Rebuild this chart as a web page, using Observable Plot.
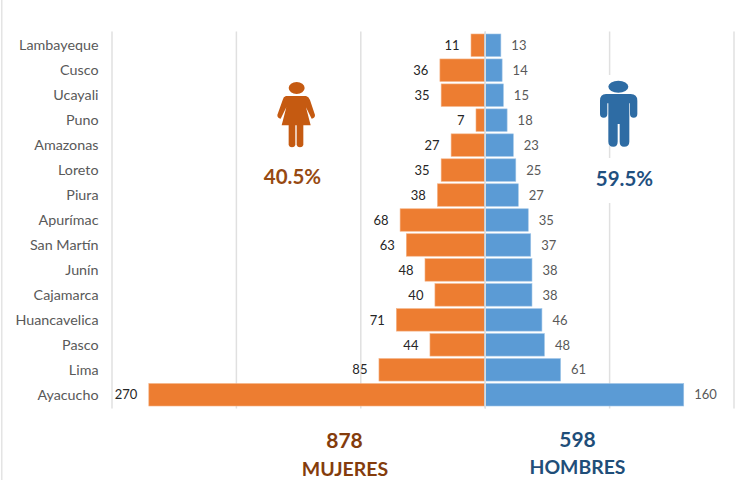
<!DOCTYPE html>
<html><head><meta charset="utf-8">
<script src="https://cdn.jsdelivr.net/npm/d3@7"></script>
<script src="https://cdn.jsdelivr.net/npm/@observablehq/plot@0.6"></script>
<style>html,body{margin:0;padding:0;background:#fff}svg{display:block}</style>
</head><body><div id="chart"></div>
<script>
const regions = ["Lambayeque","Cusco","Ucayali","Puno","Amazonas","Loreto","Piura","Apurímac","San Martín","Junín","Cajamarca","Huancavelica","Pasco","Lima","Ayacucho"];
const mujeres = [11,36,35,7,27,35,38,68,63,48,40,71,44,85,270];
const hombres = [13,14,15,18,23,25,27,35,37,38,38,46,48,61,160];
const gridTicks = [-300,-200,-100,0,100,200];
const FONT = "Lato, Carlito, sans-serif";
const left = 111.5, top_ = 31.5;

const rowsM = regions.map((r,i)=>({r, v:mujeres[i]}));
const rowsH = regions.map((r,i)=>({r, v:hombres[i]}));

const note = (t,px,py,size,fill) => Plot.text([t],{
  text:d=>d, frameAnchor:"top-left", dx:px-left, dy:py-top_,
  textAnchor:"middle", lineAnchor:"middle", fontSize:size, fontWeight:700, fill, fontFamily:FONT
});

function icons(){
  const g = d3.create("svg:g");
  g.append("rect").attr("x",596).attr("y",75).attr("width",46).attr("height",71).attr("fill","#fff");
  g.append("rect").attr("x",590).attr("y",158).attr("width",66).attr("height",45).attr("fill","#fff");
  const w = g.append("g").attr("transform","translate(0,20) scale(0.33333)").attr("fill","#C55A11");
  w.append("ellipse").attr("cx",890).attr("cy",204).attr("rx",24).attr("ry",18);
  w.append("path").attr("d","M858 228 L918 228 Q926 230 930 240 L945 285 Q945 295 935 296 L918 262 L932 316 L910 316 L910 375 Q908 382 900 382 Q892 382 890 375 L890 316 L886 316 L886 375 Q884 382 876 382 Q868 382 866 375 L866 316 L845 316 L859 262 L842 296 Q832 295 832 285 L848 240 Q850 230 858 228Z");
  const m = g.append("g").attr("transform","translate(370,20) scale(0.33333)").attr("fill","#2E6CA4");
  m.append("ellipse").attr("cx",745).attr("cy",200).attr("rx",30).attr("ry",18);
  m.append("path").attr("d","M708 222 L782 222 Q802 222 802 242 L802 282 Q802 293 791 293 Q780 293 780 282 L780 250 L778 250 L778 365 Q778 380 762 380 Q749 380 749 365 L749 312 L743 312 L743 365 Q743 380 730 380 Q715 380 715 365 L715 250 L712 250 L712 282 Q712 293 701 293 Q690 293 690 282 L690 242 Q690 222 708 222Z");
  return g.node();
}

const plot = Plot.plot({
  width:739, height:480,
  marginTop:top_, marginBottom:71.5, marginLeft:left, marginRight:5.5,
  style:{fontFamily:FONT, background:"#fff"},
  x:{domain:[-300,200], axis:null},
  y:{domain:regions, padding:0.1, round:false, label:null, axis:null},
  marks:[
    Plot.ruleX(gridTicks,{x:d=>d, stroke:"#e0e0e0", strokeWidth:1.5}),
    icons,
    Plot.barX(rowsM,{y:"r", x1:0, x2:d=>-d.v, fill:"#ED7D31", stroke:"#F4B183", strokeWidth:0.6}),
    Plot.barX(rowsH,{y:"r", x1:0, x2:"v", fill:"#5B9BD5", stroke:"#9DC3E6", strokeWidth:0.6}),
    Plot.ruleX([0],{stroke:"#e0e0e0", strokeWidth:1.5}),
    Plot.axisY({tickSize:0, tickPadding:13.5, label:null, fontSize:14.3, fill:"#595959"}),
    Plot.text(rowsM,{y:"r", x:d=>-d.v, text:d=>String(d.v), textAnchor:"end", dx:-12, fontSize:13, fill:"#262626", fontFamily:FONT}),
    Plot.text(rowsH,{y:"r", x:"v", text:d=>String(d.v), textAnchor:"start", dx:10, fontSize:13, fill:"#595959", fontFamily:FONT}),
    note("40.5%",292,177,20.5,"#974A12"),
    note("59.5%",624,179,20.5,"#1F5080"),
    note("878",344,441,21,"#843C0C"),
    note("MUJERES",344.5,469,19.5,"#843C0C"),
    note("598",577,440,21,"#1F4E79"),
    note("HOMBRES",577,467,19.4,"#1F4E79"),
    ()=>d3.create("svg:rect").attr("x",1).attr("y",0).attr("width",1.5).attr("height",480).attr("fill","#e4e4e4").node()
  ]
});
document.getElementById("chart").append(plot);
</script></body></html>
